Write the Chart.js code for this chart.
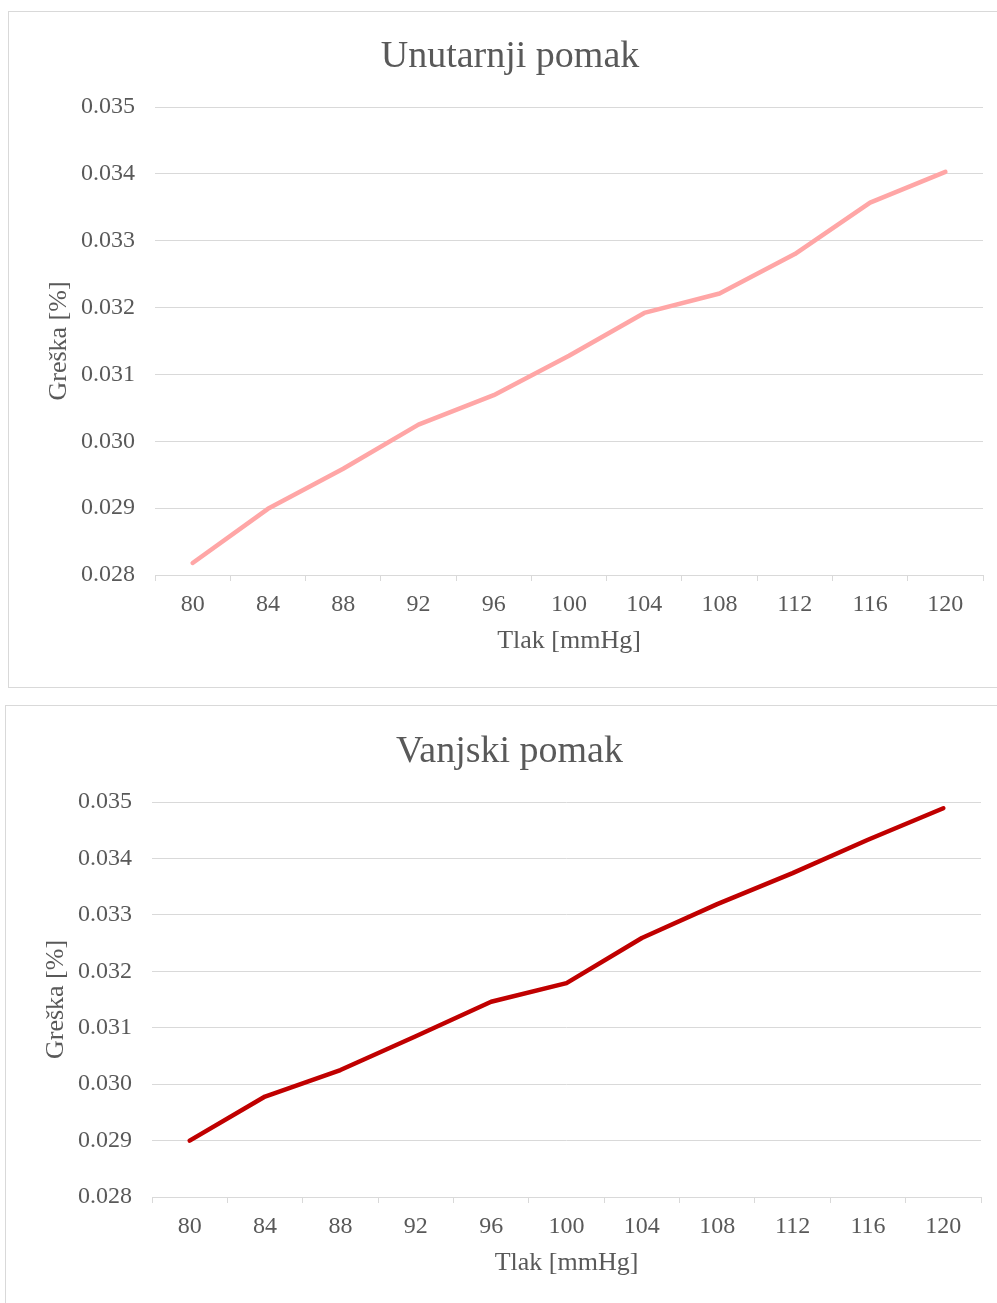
<!DOCTYPE html>
<html>
<head>
<meta charset="utf-8">
<script src="https://cdn.jsdelivr.net/npm/chart.js@4.4.1/dist/chart.umd.min.js"></script>
<style>
  body { margin: 0; background: #fff; overflow: hidden; }
  .box { position: absolute; border: 1px solid #d9d9d9; background: #fff; }
  #box1 { left: 8px; top: 11px; width: 1002px; height: 675px; }
  #box2 { left: 5px; top: 705px; width: 1007px; height: 603px; }
</style>
</head>
<body>
<div class="box" id="box1"><canvas id="chartUnutarnji" width="1002" height="675"></canvas></div>
<div class="box" id="box2"><canvas id="chartVanjski" width="1007" height="603"></canvas></div>
<script>
// ----- Dados -----
const tlak = ["80", "84", "88", "92", "96", "100", "104", "108", "112", "116", "120"];
const unutarnjiPomak = [0.02818, 0.02899, 0.02959, 0.03025, 0.03069, 0.03128, 0.03192, 0.03221, 0.03280, 0.03357, 0.03403];
const vanjskiPomak = [0.02900, 0.02978, 0.03025, 0.03085, 0.03146, 0.03179, 0.03259, 0.03319, 0.03374, 0.03433, 0.03489];
const yMin = 0.028, yMax = 0.035, yStep = 0.001;

const fontFam = "'Liberation Serif', 'Times New Roman', serif";
const txtColor = "#595959";
const gridColor = "#d9d9d9";

function makeChart(canvasId, title, values, color, titleTop, titleBottom, rightGap) {
  return new Chart(document.getElementById(canvasId), {
    type: "line",
    data: {
      labels: tlak,
      datasets: [{
        data: values,
        borderColor: color,
        borderWidth: 4.5,
        borderCapStyle: "round",
        borderJoinStyle: "round",
        pointRadius: 0,
        tension: 0,
        fill: false
      }]
    },
    options: {
      responsive: false,
      animation: false,
      layout: { padding: 0 },
      plugins: {
        legend: { display: false },
        tooltip: { enabled: false },
        title: {
          display: true,
          text: title,
          color: txtColor,
          font: { family: fontFam, size: 38, weight: "normal" },
          padding: { top: titleTop, bottom: titleBottom }
        }
      },
      scales: {
        x: {
          offset: true,
          grid: { display: true, drawOnChartArea: false, drawTicks: true, tickLength: 6, offset: true, color: gridColor },
          border: { display: true, color: gridColor },
          ticks: { color: txtColor, font: { family: fontFam, size: 24 }, padding: 9, maxRotation: 0, autoSkip: false },
          title: { display: true, text: "Tlak [mmHg]", color: txtColor, font: { family: fontFam, size: 26 }, padding: { top: 0, bottom: 30 } },
          afterFit: s => { s.height = 112; }
        },
        y: {
          min: yMin,
          max: yMax,
          grid: { color: gridColor, lineWidth: 1, drawTicks: false },
          border: { display: false },
          ticks: { stepSize: yStep, color: txtColor, font: { family: fontFam, size: 24 }, padding: 20, callback: v => v.toFixed(3) },
          title: { display: true, text: "Greška [%]", color: txtColor, font: { family: fontFam, size: 26 }, padding: { top: 35, bottom: 0 } },
          afterFit: s => { s.width = 146; }
        },
        // eixo vazio à direita, só para reservar espaço
        yDir: {
          position: "right",
          grid: { display: false },
          border: { display: false },
          ticks: { display: false },
          afterFit: s => { s.width = rightGap; }
        }
      }
    }
  });
}

// ----- Gráficos -----
makeChart("chartUnutarnji", "Unutarnji pomak", unutarnjiPomak, "#FFA6A6", 22, 27.4, 28);
makeChart("chartVanjski", "Vanjski pomak", vanjskiPomak, "#C00000", 23, 27.4, 32);
</script>
</body>
</html>
